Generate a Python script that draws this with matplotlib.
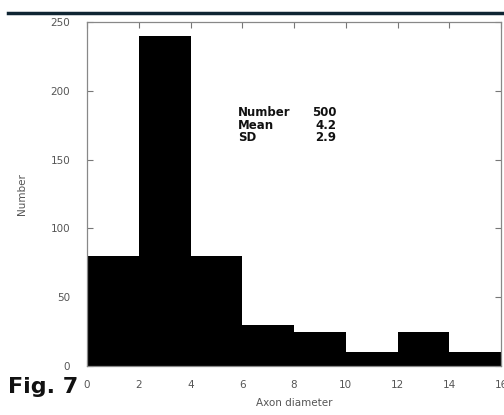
import matplotlib
matplotlib.use("Agg")
import matplotlib.pyplot as plt
from matplotlib.lines import Line2D

bin_edges = [0, 2, 4, 6, 8, 10, 12, 14, 16]
counts = [80, 240, 80, 30, 25, 10, 25, 10]
x_ticks = [0, 2, 4, 6, 8, 10, 12, 14, 16]
y_ticks = [0, 50, 100, 150, 200, 250]
stat_names = ["Number", "Mean", "SD"]
stat_values = ["500", "4.2", "2.9"]

fig = plt.figure(figsize=(5.04, 4.15), dpi=100)
ax = fig.add_axes([87/504, 1-366/415, (501-87)/504, (366-22)/415])

ax.stairs(counts, bin_edges, fill=True, color='black', linewidth=0)
ax.set_axisbelow(True)

ax.set_xlim(0, 16)
ax.set_ylim(0, 250)
ax.set_xticks(x_ticks)
ax.set_yticks(y_ticks)
tc = '#555555'
ax.tick_params(direction='in', top=True, right=True, length=4, width=0.8, color='#777777',
               labelsize=7.5, labelcolor=tc, pad=10)
ax.tick_params(axis='y', pad=12)
for s in ax.spines.values():
    s.set_color('#888888')
    s.set_linewidth(0.9)

ax.set_xlabel("Axon diameter", fontsize=7.5, color=tc, labelpad=6)
ax.set_ylabel("Number", fontsize=7.5, color=tc, labelpad=17)

# stats box
ys = [0.738, 0.700, 0.663]
for n, v, y in zip(stat_names, stat_values, ys):
    ax.text(0.365, y, n, transform=ax.transAxes, fontsize=8.5, fontweight='bold', color='#111111', va='center', ha='left')
    ax.text(0.602, y, v, transform=ax.transAxes, fontsize=8.5, fontweight='bold', color='#111111', va='center', ha='right')

# Top rule
fig.add_artist(Line2D([8/504, 1.0], [1-13/415, 1-13/415], color='#0f2533', linewidth=2.5, transform=fig.transFigure))

fig.text(8/504, 1-387/415, "Fig. 7", fontsize=16, fontweight='bold',
         family=['Liberation Sans Narrow', 'DejaVu Sans'],
         va='center', ha='left', color='#111111')

fig.savefig("out.png", dpi=100)
